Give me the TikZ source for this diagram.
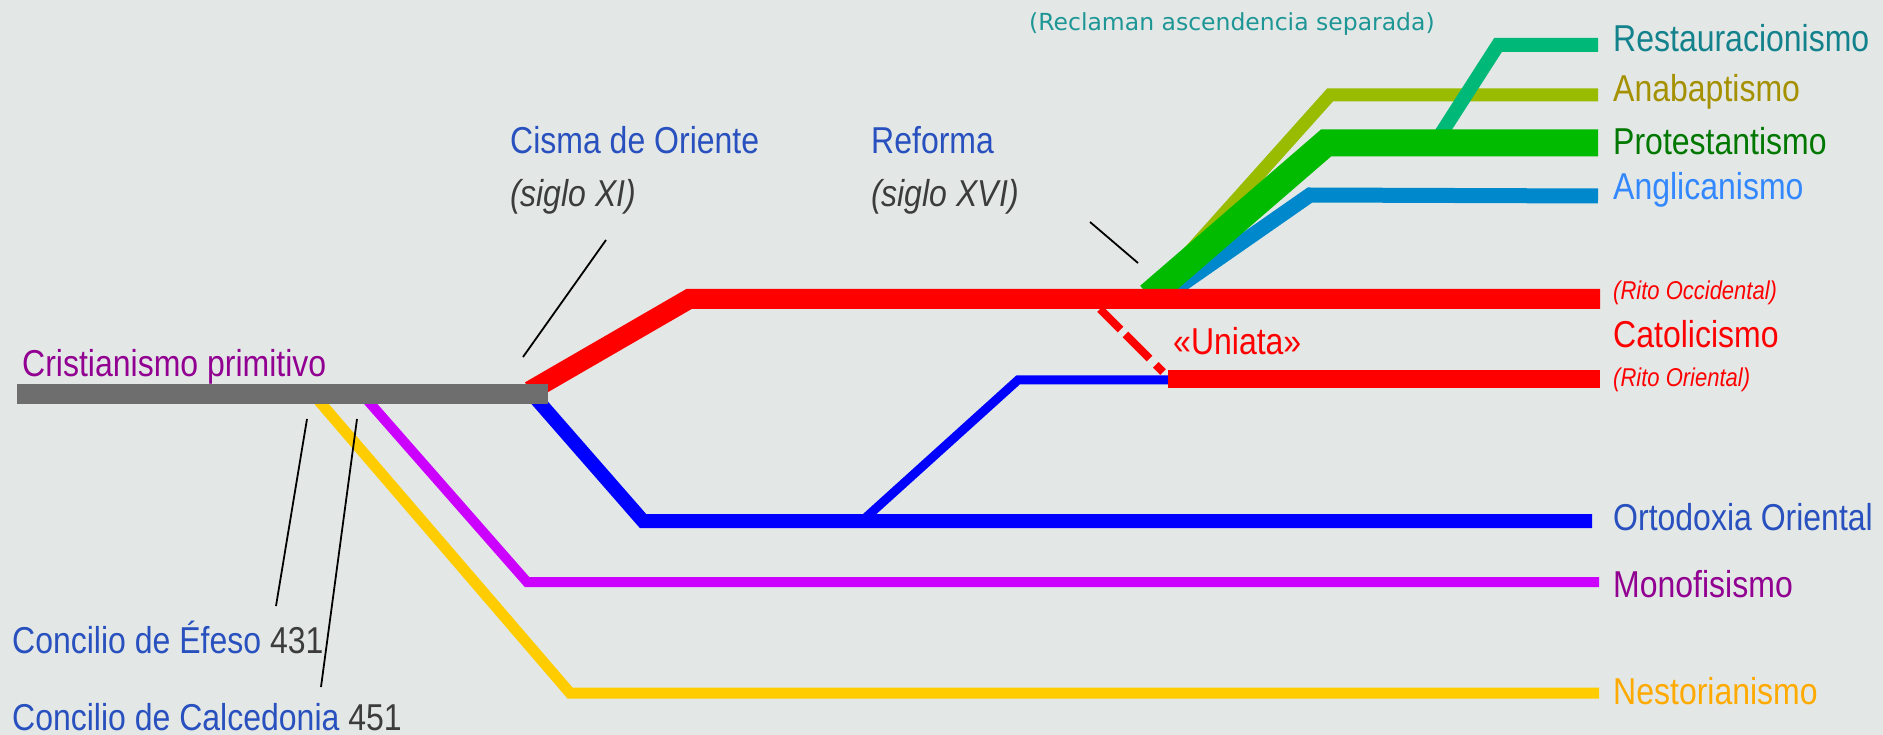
\documentclass[tikz,border=0pt]{standalone}
\usepackage{fontspec}
\setmainfont{Liberation Sans}
\newfontfamily\notafont{DejaVu Sans}
\usetikzlibrary{calc}
\definecolor{fondo}{RGB}{227,232,230}
\definecolor{gris}{RGB}{110,110,110}
\definecolor{rojo}{RGB}{255,0,0}
\definecolor{azul}{RGB}{0,0,255}
\definecolor{violeta}{RGB}{204,0,255}
\definecolor{amarillo}{RGB}{255,204,0}
\definecolor{verde}{RGB}{0,187,0}
\definecolor{oliva}{RGB}{153,187,0}
\definecolor{celeste}{RGB}{0,136,204}
\definecolor{turquesa}{RGB}{0,184,120}
\definecolor{txtazul}{RGB}{40,80,190}
\definecolor{txtgris}{RGB}{60,60,60}
\definecolor{txtvioleta}{RGB}{145,0,145}
\definecolor{txtturq}{RGB}{20,130,140}
\definecolor{txtoliva}{RGB}{165,145,0}
\definecolor{txtverde}{RGB}{0,120,0}
\definecolor{txtceleste}{RGB}{51,136,255}
\definecolor{txtnaranja}{RGB}{255,170,0}
\definecolor{txtnota}{RGB}{30,150,150}
\newcommand{\alto}[1]{\scalebox{1}[1.17]{#1}}
\tikzset{
	rama/.style={line join=miter},
	guia/.style={draw=black, line width=1.8pt}
}
\tikzset{
	etiq/.style={anchor=base west, inner sep=0pt, font=\fontsize{32}{38}\selectfont},
	rito/.style={anchor=base west, inner sep=0pt, text=rojo, font=\itshape\fontsize{22}{26}\selectfont}
}

\begin{document}
\begin{tikzpicture}[x=1pt, y=-1pt]
\fill[fondo] (0,0) rectangle (1883,735);
\useasboundingbox (0,0) rectangle (1883,735);

% puntos de las ramas
\coordinate (G0) at (17,394);
\coordinate (G1) at (548,394);
\coordinate (N0) at (313,394);
\coordinate (N1) at (570,693);
\coordinate (N2) at (1599,693);
\coordinate (M0) at (362,394);
\coordinate (M1) at (527,582);
\coordinate (M2) at (1599,582);
\coordinate (O0) at (532,394);
\coordinate (O1) at (643,521);
\coordinate (O2) at (1592,521);
\coordinate (U0) at (862,521);
\coordinate (U1) at (1018,380);
\coordinate (U2) at (1170,380);
\coordinate (C0) at (1168,379);
\coordinate (C1) at (1600,379);
\coordinate (R0) at (530,391);
\coordinate (R1) at (689,299);
\coordinate (R2) at (1600,299);
\coordinate (D0) at (1100,309);
\coordinate (D1) at (1163,372);
\coordinate (A0) at (1150,296);
\coordinate (A1) at (1330,95);
\coordinate (A2) at (1598,95);
\coordinate (L0) at (1165,296);
\coordinate (L1) at (1310,195);
\coordinate (L2) at (1598,196);
\coordinate (T0) at (1437,140);
\coordinate (T1) at (1498,45);
\coordinate (T2) at (1598,45);
\coordinate (P0) at (1149,296);
\coordinate (P1) at (1326,143);
\coordinate (P2) at (1598,143);

\draw[rama, amarillo, line width=11pt] (N0) -- (N1) -- (N2);
\draw[rama, violeta, line width=10pt] (M0) -- (M1) -- (M2);
\draw[rama, azul, line width=14pt] (O0) -- (O1) -- (O2);
\draw[rama, azul, line width=9pt] (U0) -- (U1) -- (U2);
\draw[rama, oliva, line width=13pt] (A0) -- (A1) -- (A2);
\draw[rama, celeste, line width=15pt] (L0) -- (L1) -- (L2);
\draw[rama, turquesa, line width=14pt] (T0) -- (T1) -- (T2);
\draw[rama, verde, line width=27pt] (P0) -- (P1) -- (P2);
\draw[rama, rojo, line width=20pt] (R0) -- (R1) -- (R2);
\draw[rama, rojo, line width=18pt] (C0) -- (C1);
\draw[rojo, line width=8pt, dash pattern=on 29pt off 7pt on 34pt off 9pt on 12pt off 20pt] (D0) -- (D1);
\draw[gris, line width=19pt] (G0) -- (G1);

% textos
\node[etiq, text=txtvioleta] (cristianismo) at (22,377) {\alto{Cristianismo primitivo}};
\node[etiq, text=txtazul] (efeso) at (12,653) {\alto{Concilio de Éfeso \textcolor{txtgris}{431}}};
\node[etiq, text=txtazul] (calcedonia) at (12,730) {\alto{Concilio de Calcedonia \textcolor{txtgris}{451}}};
\node[etiq, text=txtazul] (cisma) at (510,154) {\alto{Cisma de Oriente}};
\node[etiq, text=txtgris, font=\itshape\fontsize{32}{38}\selectfont] (cismafecha) at (510,207) {\alto{(siglo XI)}};
\node[etiq, text=txtazul] (reforma) at (871,154) {\alto{Reforma}};
\node[etiq, text=txtgris, font=\itshape\fontsize{32}{38}\selectfont] (reformafecha) at (871,207) {\alto{(siglo XVI)}};
\node[anchor=base west, inner sep=0pt, text=txtnota, font=\notafont\fontsize{23.5}{28}\selectfont] (reclaman) at (1029,31) {(Reclaman ascendencia separada)};
\node[etiq, text=txtturq] (restaur) at (1613,52) {\alto{Restauracionismo}};
\node[etiq, text=txtoliva] (anabap) at (1613,102) {\alto{Anabaptismo}};
\node[etiq, text=txtverde] (protes) at (1613,155) {\alto{Protestantismo}};
\node[etiq, text=txtceleste] (anglic) at (1613,200) {\alto{Anglicanismo}};
\node[rito] (occidental) at (1613,300) {\alto{(Rito Occidental)}};
\node[etiq, text=rojo] (catol) at (1613,348) {\alto{Catolicismo}};
\node[etiq, text=rojo] (uniata) at (1173,355) {\alto{«Uniata»}};
\node[rito] (oriental) at (1613,386) {\alto{(Rito Oriental)}};
\node[etiq, text=txtazul] (ortodoxia) at (1613,530) {\alto{Ortodoxia Oriental}};
\node[etiq, text=txtvioleta] (monof) at (1613,597) {\alto{Monofisismo}};
\node[etiq, text=txtnaranja] (nestor) at (1613,704) {\alto{Nestorianismo}};

% lineas guia
\coordinate (cisma1) at (606,240);
\coordinate (cisma2) at (523,357);
\coordinate (reforma1) at (1090,222);
\coordinate (reforma2) at (1138,263);
\coordinate (efeso1) at (276,606);
\coordinate (efeso2) at (307,419);
\coordinate (calced1) at (321,687);
\coordinate (calced2) at (357,419);
\draw[guia] (cisma1) -- (cisma2);
\draw[guia] (reforma1) -- (reforma2);
\draw[guia] (efeso1) -- (efeso2);
\draw[guia] (calced1) -- (calced2);
\end{tikzpicture}
\end{document}
